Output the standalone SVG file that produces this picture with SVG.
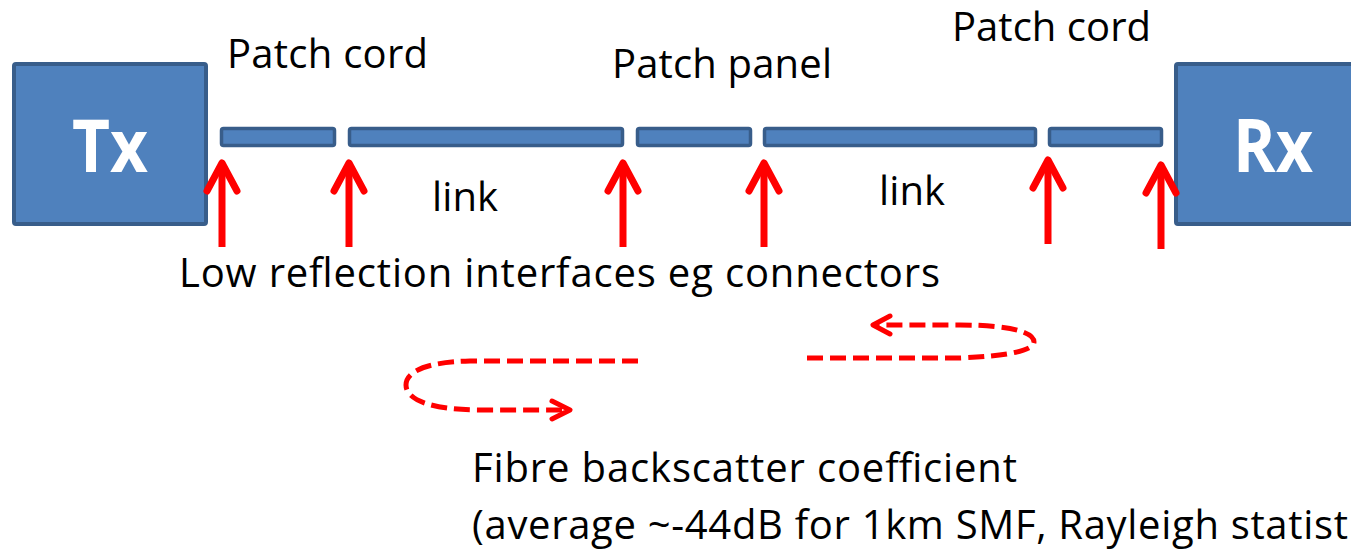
<svg xmlns="http://www.w3.org/2000/svg" width="1351" height="555" viewBox="0 0 1351 555">
<defs>
<style>
.box{fill:#4F81BD;stroke:#385D8A;stroke-width:4}
.bar{fill:#4F81BD;stroke:#385D8A;stroke-width:3.5}
.big{font-family:"Open Sans","Liberation Sans",sans-serif;font-weight:bold;font-size:74px;fill:#FFFFFF}
.lbl{font-family:"Open Sans","Liberation Sans",sans-serif;font-size:40px;fill:#000000}
.up{stroke:#FF0000;stroke-width:7;fill:none}
.head{stroke:#FF0000;stroke-width:7;fill:none;stroke-linecap:round;stroke-linejoin:round}
.dash{stroke:#FF0000;stroke-width:5;fill:none;stroke-dasharray:16 7}
.chev{stroke:#FF0000;stroke-width:5;fill:none;stroke-linecap:round;stroke-linejoin:round}
</style>
</defs>
<rect width="1351" height="555" fill="#FFFFFF"/>
<g id="tx">
<rect class="box" x="14" y="64" width="192" height="160" rx="2"/>
<text class="big" x="72" y="172" textLength="76" lengthAdjust="spacingAndGlyphs">Tx</text>
</g>
<g id="rx">
<rect class="box" x="1176" y="64" width="200" height="160" rx="2"/>
<text class="big" x="1233" y="172" textLength="80" lengthAdjust="spacingAndGlyphs">Rx</text>
</g>
<g id="bar1"><rect class="bar" x="221.5" y="128.5" width="113" height="17" rx="2"/></g>
<g id="bar2"><rect class="bar" x="349.5" y="128.5" width="273" height="17" rx="2"/></g>
<g id="bar3"><rect class="bar" x="637.5" y="128.5" width="113" height="17" rx="2"/></g>
<g id="bar4"><rect class="bar" x="764.5" y="128.5" width="271" height="17" rx="2"/></g>
<g id="bar5"><rect class="bar" x="1049.5" y="128.5" width="112" height="17" rx="2"/></g>
<g id="labels">
<text class="lbl" x="227" y="68" textLength="201">Patch cord</text>
<text class="lbl" x="612" y="78" textLength="220">Patch panel</text>
<text class="lbl" x="952" y="41" font-size="38" textLength="199">Patch cord</text>
<text class="lbl" x="432" y="211" textLength="66">link</text>
<text class="lbl" x="879" y="205" textLength="66">link</text>
<text class="lbl" x="179" y="287" textLength="761">Low reflection interfaces eg connectors</text>
<text class="lbl" x="472" y="482" textLength="545">Fibre backscatter coefficient</text>
<text class="lbl" x="472" y="539" textLength="876">(average ~-44dB for 1km SMF, Rayleigh statist</text>
</g>
<g id="connectors">
<line class="up" x1="222" y1="247" x2="222" y2="165"/>
<polyline class="head" points="207,191 222,163 237,191"/>
<line class="up" x1="349" y1="247" x2="349" y2="165"/>
<polyline class="head" points="334,191 349,163 364,191"/>
<line class="up" x1="623" y1="247" x2="623" y2="165"/>
<polyline class="head" points="608,191 623,163 638,191"/>
<line class="up" x1="764" y1="247" x2="764" y2="165"/>
<polyline class="head" points="749,191 764,163 779,191"/>
<line class="up" x1="1048" y1="244" x2="1048" y2="162"/>
<polyline class="head" points="1033,188 1048,160 1063,188"/>
<line class="up" x1="1161" y1="249" x2="1161" y2="167"/>
<polyline class="head" points="1146,193 1161,165 1176,193"/>
<path class="dash" d="M638,361 L470,361 C425,362 406,372 406,385 C406,400 432,410 480,410 L568,410"/>
<polyline class="chev" points="552,401 570,410 552,419"/>
<path class="dash" d="M807,358 L960,358 C1010,356 1034,350 1034,342 C1034,332 1010,325 960,325 L876,325"/>
<polyline class="chev" points="890,316 873,325 890,334"/>
</g>
</svg>
